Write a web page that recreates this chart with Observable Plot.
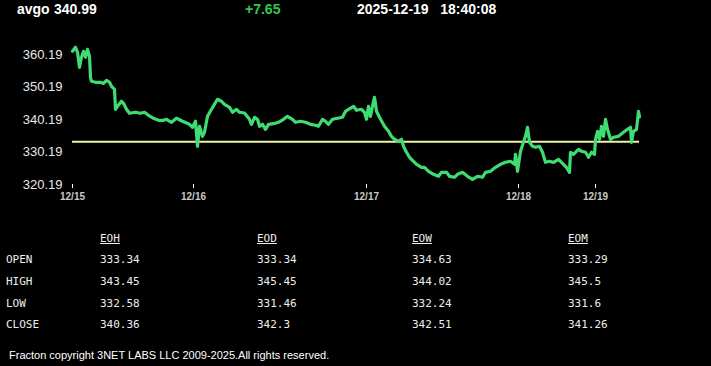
<!DOCTYPE html>
<html>
<head>
<meta charset="utf-8">
<script src="https://cdn.jsdelivr.net/npm/d3@7"></script>
<script src="https://cdn.jsdelivr.net/npm/@observablehq/plot@0.6"></script>
<style>
  html, body { margin: 0; padding: 0; background: #000; width: 711px; height: 366px; overflow: hidden; }
  body { position: relative; font-family: "Liberation Sans", Arial, sans-serif; color: #fff; }
  .hdr { position: absolute; top: 1px; font-size: 14px; font-weight: bold; line-height: 16px; white-space: pre; }
  #chart { position: absolute; left: 0; top: 22px; }
  .tbl { position: absolute; font-family: "DejaVu Sans Mono", monospace; font-size: 11px; line-height: 13px; color: #eee; white-space: pre; }
  .tbl.h { text-decoration: underline; }
  #caption { position: absolute; left: 9px; top: 348px; font-size: 11px; line-height: 14px; color: #fff; white-space: pre; }
</style>
</head>
<body>
<div id="header"></div>
<div id="chart"></div>
<div id="table"></div>
<div id="caption"></div>
<script>
// ---- data ----
const symbol = "avgo";
const lastPrice = "340.99";
const change = "+7.65";
const stamp = "2025-12-19   18:40:08";
const prevClose = 333.34;

// bar index of each sample and its price
const barIndex = [0,3,5,7,9,11,13,15,17,18,19,23,28,31,34,37,39,42,43,45,49,51,54,57,63,68,72,76,81,86,91,94,99,104,110,117,120,123,125,127,130,132,135,139,142,145,149,152,157,160,164,167,172,177,179,182,185,187,190,193,196,201,206,211,215,220,223,228,233,238,243,246,250,253,256,260,265,270,273,276,281,284,289,292,294,296,298,301,302,304,307,312,316,319,322,326,329,331,334,337,341,344,349,352,356,361,366,369,374,377,382,385,390,395,400,405,410,413,418,423,428,433,438,442,443,445,448,451,453,455,457,460,463,467,470,473,477,481,486,491,494,497,498,501,506,509,513,516,519,522,523,525,527,529,531,533,535,538,541,546,551,555,558,559,561,564,566,567];
const price = [361.17,362.41,360.87,356.25,359.33,361.17,359.33,361.79,359.64,353.17,351.94,351.64,351.64,351.3,352.25,351.64,350.41,349.48,343.33,344.25,345.79,345.17,343.33,342.1,342.41,342.1,342.41,341.48,340.56,339.94,339.94,340.25,339.33,340.56,339.64,338.71,337.79,339.64,331.94,338.1,335.02,336.25,341.17,343.33,344.87,346.41,345.79,344.87,343.94,342.41,343.33,342.41,342.2,340.25,338.71,340.87,340.25,338.1,338.71,337.17,338.71,338.9,339.33,340.25,341.17,340.25,339.33,339.64,339.33,338.71,338.41,338.1,340.25,339.64,338.71,340.25,340.56,340.87,342.71,343.33,344.25,343.02,343.33,342.41,340.25,344.25,341.17,345.79,347.02,342.71,340.87,338.1,336.56,335.02,334.1,333.48,334.1,331.94,330.1,328.56,327.33,326.41,325.48,325.48,324.25,323.33,322.71,323.94,323.94,322.71,322.41,323.33,323.94,322.71,321.79,322.71,322.41,323.94,324.25,325.48,326.41,327.02,327.33,326.41,329.48,324.25,330.4,333.17,335.02,337.79,333.17,331.94,331.64,331.94,330.1,327.02,327.33,327.0,327.94,326.41,325.48,323.94,330.1,329.48,331.02,330.4,330.1,328.56,330.1,329.48,334.1,336.56,334.1,338.1,335.02,340.25,337.17,334.1,334.71,335.02,336.25,337.17,337.79,333.17,336.56,337.17,342.71,340.99];

const yTicks = [320.19, 330.19, 340.19, 350.19, 360.19];
const dayTickIndex = [0, 121, 294, 446, 523];
const dayTickLabels = ["12/15", "12/16", "12/17", "12/18", "12/19"];

const colHeads = ["EOH", "EOD", "EOW", "EOM"];
const rowHeads = ["OPEN", "HIGH", "LOW", "CLOSE"];
const eoh = ["333.34", "343.45", "332.58", "340.36"];
const eod = ["333.34", "345.45", "331.46", "342.3"];
const eow = ["334.63", "344.02", "332.24", "342.51"];
const eom = ["333.29", "345.5", "331.6", "341.26"];

const captionText = "Fracton copyright 3NET LABS LLC 2009-2025.All rights reserved.";

// ---- header ----
const header = document.getElementById("header");
[[symbol, 17, "#fff"], [lastPrice, 54, "#fff"], [change, 245, "#33c84a"], [stamp, 357, "#fff"]].forEach(([t, x, c]) => {
  const d = document.createElement("div");
  d.className = "hdr"; d.textContent = t; d.style.left = x + "px"; d.style.color = c;
  header.appendChild(d);
});

// ---- chart ----
const series = barIndex.map((b, i) => ({b, p: price[i]}));
const labelOf = new Map(dayTickIndex.map((d, i) => [d, dayTickLabels[i]]));

const chart = Plot.plot({
  width: 711,
  height: 190,
  marginTop: 32,
  marginBottom: 28,
  marginLeft: 72,
  marginRight: 72,
  style: {background: "#000", fontFamily: "Liberation Sans, Arial, sans-serif"},
  x: {domain: [0, 567]},
  y: {domain: [320.19, 360.19]},
  marks: [
    Plot.axisY({ticks: yTicks, tickSize: 0, tickPadding: 10, tickFormat: d => d.toFixed(2), fontSize: 13, fill: "#e8e8e8", label: null}),
    Plot.axisX({ticks: dayTickIndex, tickSize: 4, tickPadding: 4, stroke: "#fff", tickFormat: d => labelOf.get(d), fontSize: 10, fontWeight: "bold", fill: "#c8c8c8", label: null}),
    Plot.ruleY([prevClose], {x1: 0, x2: 567, stroke: "#eef4a2", strokeWidth: 2}),
    Plot.line(series, {x: "b", y: "p", stroke: "#3fdc74", strokeWidth: 3.2, strokeLinejoin: "round", curve: "linear"})
  ]
});
document.getElementById("chart").appendChild(chart);

// ---- table ----
const table = document.getElementById("table");
const colX = [100, 257, 412, 568];
const rowY = [259, 281, 303, 324];
function put(text, x, yc, cls) {
  const d = document.createElement("div");
  d.className = cls; d.textContent = text;
  d.style.left = x + "px"; d.style.top = (yc - 6.5) + "px";
  table.appendChild(d);
}
colHeads.forEach((h, j) => put(h, colX[j], 238, "tbl h"));
const cols = [eoh, eod, eow, eom];
rowHeads.forEach((r, i) => {
  put(r, 6, rowY[i], "tbl");
  cols.forEach((c, j) => put(c[i], colX[j], rowY[i], "tbl"));
});

document.getElementById("caption").textContent = captionText;
</script>
</body>
</html>
